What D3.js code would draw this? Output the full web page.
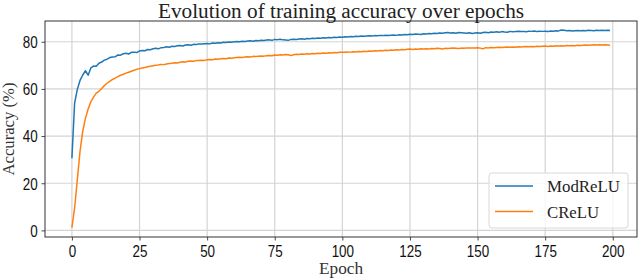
<!DOCTYPE html>
<html lang="en">
<head>
  <meta charset="UTF-8">
  <title>Evolution of training accuracy over epochs</title>
  <script src="https://d3js.org/d3.v7.min.js"></script>
  <style>
    body {
      margin: 0;
      background-color: #fff;
    }
    svg {
      display: block;
    }
  </style>
</head>
<body>
  <svg width="640" height="279"></svg>

  <script>
  // training accuracy (%) per epoch
  const modReLU = [
    30.6, 54.0, 59.8, 63.6, 65.9, 67.7, 65.8, 68.9, 69.7, 69.6,
    70.9, 71.4, 72.2, 72.6, 73.3, 73.5, 73.6, 74.4, 74.3, 74.9,
    75.1, 74.8, 75.5, 75.6, 75.4, 76.1, 76.3, 76.2, 76.7, 76.6,
    77.0, 77.2, 77.0, 77.5, 77.6, 77.9, 77.7, 78.1, 78.0, 78.3,
    78.4, 78.2, 78.6, 78.7, 78.5, 78.9, 78.8, 79.1, 79.0, 79.2,
    79.3, 79.1, 79.5, 79.4, 79.6, 79.5, 79.8, 79.7, 79.9, 79.8,
    80.0, 80.1, 80.0, 80.2, 80.1, 80.3, 80.4, 80.2, 80.5, 80.4,
    80.6, 80.5, 80.7, 80.8, 80.6, 81.0, 80.9, 81.1, 80.8, 80.7,
    80.6, 81.0, 81.1, 81.0, 81.2, 81.3, 81.1, 81.4, 81.3, 81.5,
    81.4, 81.6, 81.5, 81.7, 81.6, 81.8, 81.7, 81.9, 81.8, 82.0,
    81.9, 82.1, 82.0, 82.2, 82.1, 82.3, 82.2, 82.4, 82.3, 82.4,
    82.5, 82.4, 82.6, 82.5, 82.7, 82.6, 82.8, 82.7, 82.8, 82.9,
    82.7, 83.0, 82.9, 83.1, 83.0, 83.2, 83.1, 83.3, 83.2, 83.1,
    83.4, 83.3, 83.5, 83.4, 83.6, 83.5, 83.7, 83.6, 83.8, 83.9,
    83.7, 83.8, 83.6, 83.9, 83.8, 83.7, 83.6, 83.8, 83.5, 83.7,
    83.8, 83.6, 83.9, 84.0, 83.8, 84.1, 84.0, 84.2, 84.0, 84.3,
    84.1, 84.0, 84.4, 84.2, 84.3, 84.5, 84.3, 84.4, 84.2, 84.5,
    84.4, 84.6, 84.3, 84.5, 84.4, 84.5, 84.3, 84.6, 84.5, 84.7,
    84.6, 85.0, 84.9, 84.7, 84.8, 84.6, 84.7, 84.8, 84.7, 84.8,
    84.7, 84.9, 84.8, 84.7, 84.9, 84.8, 84.9, 84.8, 84.9, 84.8
  ];

  const cReLU = [
     1.2,  9.5, 21.5, 33.5, 42.0, 47.5, 51.5, 54.5, 56.5, 58.2,
    59.0, 60.2, 61.4, 62.4, 63.2, 64.0, 64.6, 65.2, 65.8, 66.2,
    66.7, 67.1, 67.5, 67.9, 68.3, 68.6, 68.9, 69.1, 69.4, 69.6,
    69.8, 70.0, 70.1, 70.4, 70.3, 70.6, 70.8, 70.9, 71.1, 71.0,
    71.3, 71.5, 71.4, 71.7, 71.8, 71.7, 72.0, 72.1, 72.2, 72.1,
    72.4, 72.5, 72.4, 72.7, 72.6, 72.8, 72.9, 72.8, 73.1, 73.0,
    73.2, 73.3, 73.4, 73.3, 73.5, 73.6, 73.5, 73.8, 73.7, 73.9,
    74.0, 73.9, 74.1, 74.2, 74.1, 74.4, 74.3, 74.5, 74.4, 74.6,
    74.5, 74.2, 74.5, 74.7, 74.6, 74.8, 74.7, 74.9, 74.8, 75.0,
    74.9, 75.1, 75.0, 75.2, 75.1, 75.3, 75.2, 75.4, 75.3, 75.5,
    75.6, 75.5, 75.7, 75.6, 75.8, 75.7, 75.9, 75.8, 76.0, 75.9,
    76.1, 76.0, 76.2, 76.1, 76.3, 76.2, 76.4, 76.3, 76.5, 76.4,
    76.6, 76.5, 76.7, 76.6, 76.8, 76.9, 76.7, 76.9, 76.8, 77.0,
    76.9, 77.0, 76.9, 77.1, 77.0, 77.2, 77.1, 76.9, 77.2, 77.1,
    77.2, 77.3, 77.2, 77.1, 77.3, 77.2, 77.4, 77.3, 77.3, 77.4,
    77.5, 77.3, 77.0, 77.5, 77.4, 77.6, 77.5, 77.6, 77.7, 77.6,
    77.7, 77.8, 77.7, 77.8, 77.7, 77.9, 77.8, 77.9, 78.0, 77.9,
    78.0, 77.9, 78.1, 78.0, 78.1, 78.2, 78.0, 78.2, 78.1, 78.3,
    78.2, 78.3, 78.2, 78.4, 78.3, 78.4, 78.3, 78.5, 78.4, 78.5,
    78.6, 78.5, 78.6, 78.7, 78.6, 78.7, 78.6, 78.7, 78.6, 78.5
  ];

  const seriesNames = ["ModReLU", "CReLU"];
  const seriesColors = ["#1f77b4", "#ff7f0e"];
  const xTicks = [0, 25, 50, 75, 100, 125, 150, 175, 200];
  const yTicks = [0, 20, 40, 60, 80];

  const svg = d3.select("svg");
  const margin = { top: 21, right: 3, bottom: 42, left: 45 };
  const width = 640 - margin.left - margin.right;
  const height = 279 - margin.top - margin.bottom;

  const serif = "'Liberation Serif', 'DejaVu Serif', serif";
  const sans = "'Liberation Sans', Arial, sans-serif";

  // matplotlib style padding of 5% on both axes
  const x = d3.scaleLinear().domain([-9.95, 208.95]).range([0, width]);
  const y = d3.scaleLinear().domain([-2.8, 88.8]).range([height, 0]);

  const g = svg.append("g")
    .attr("transform", `translate(${margin.left},${margin.top})`);

  // grid
  g.append("g")
    .selectAll("line")
    .data(xTicks)
    .join("line")
    .attr("x1", d => x(d)).attr("x2", d => x(d))
    .attr("y1", 0).attr("y2", height)
    .attr("stroke", "#d4d4d4")
    .attr("stroke-width", 1.2);

  g.append("g")
    .selectAll("line")
    .data(yTicks)
    .join("line")
    .attr("x1", 0).attr("x2", width)
    .attr("y1", d => y(d)).attr("y2", d => y(d))
    .attr("stroke", "#d4d4d4")
    .attr("stroke-width", 1.2);

  // curves
  const series = [modReLU, cReLU];
  const line = d3.line()
    .x((d, i) => x(i))
    .y(d => y(d));

  g.append("g")
    .selectAll("path")
    .data(series)
    .join("path")
    .attr("d", line)
    .attr("fill", "none")
    .attr("stroke", (d, i) => seriesColors[i])
    .attr("stroke-width", 1.5)
    .attr("stroke-linejoin", "round");

  // axes
  const xAxis = g.append("g")
    .attr("transform", `translate(0,${height})`)
    .call(d3.axisBottom(x).tickValues(xTicks).tickSize(3.5).tickPadding(5.5));

  const yAxis = g.append("g")
    .call(d3.axisLeft(y).tickValues(yTicks).tickSize(3.5).tickPadding(3));

  [xAxis, yAxis].forEach(a => {
    a.select(".domain").remove();
    a.selectAll(".tick line").attr("stroke", "#333").attr("stroke-width", 0.9);
    a.selectAll(".tick text")
      .attr("fill", "#111")
      .attr("font-family", sans)
      .attr("font-size", 16)
      .attr("transform", "scale(0.84,1)");
  });
  yAxis.selectAll(".tick text").attr("x", -8.6).attr("dy", "0.36em");

  // frame
  g.append("rect")
    .attr("width", width)
    .attr("height", height)
    .attr("fill", "none")
    .attr("stroke", "#333")
    .attr("stroke-width", 1);

  // title and labels
  svg.append("text")
    .attr("x", margin.left + width / 2)
    .attr("y", 18)
    .attr("text-anchor", "middle")
    .attr("font-family", serif)
    .attr("font-size", 20)
    .attr("textLength", 366)
    .attr("lengthAdjust", "spacingAndGlyphs")
    .attr("fill", "#222")
    .text("Evolution of training accuracy over epochs");

  svg.append("text")
    .attr("x", margin.left + width / 2)
    .attr("y", 274)
    .attr("text-anchor", "middle")
    .attr("font-family", serif)
    .attr("font-size", 16)
    .attr("textLength", 44)
    .attr("lengthAdjust", "spacingAndGlyphs")
    .attr("fill", "#333")
    .text("Epoch");

  svg.append("text")
    .attr("transform", `translate(14,${margin.top + height / 2}) rotate(-90)`)
    .attr("text-anchor", "middle")
    .attr("font-family", serif)
    .attr("font-size", 16)
    .attr("textLength", 93)
    .attr("lengthAdjust", "spacingAndGlyphs")
    .attr("fill", "#333")
    .text("Accuracy (%)");

  // legend
  const legendW = 139, legendH = 55;
  const legend = g.append("g")
    .attr("transform", `translate(${width - legendW - 9},${height - legendH - 9})`);

  legend.append("rect")
    .attr("width", legendW)
    .attr("height", legendH)
    .attr("rx", 3)
    .attr("fill", "#fff")
    .attr("fill-opacity", 0.8)
    .attr("stroke", "#d8d8d8")
    .attr("stroke-width", 1);

  const textLengths = [73, 52];
  seriesNames.forEach((name, i) => {
    const row = legend.append("g").attr("transform", `translate(0,${13 + i * 25.5})`);
    row.append("line")
      .attr("x1", 6).attr("x2", 44)
      .attr("stroke", seriesColors[i])
      .attr("stroke-width", 1.5);
    row.append("text")
      .attr("x", 58)
      .attr("y", 6)
      .attr("font-family", serif)
      .attr("font-size", 16)
      .attr("textLength", textLengths[i])
      .attr("lengthAdjust", "spacingAndGlyphs")
      .attr("fill", "#222")
      .text(name);
  });
  </script>
</body>
</html>
